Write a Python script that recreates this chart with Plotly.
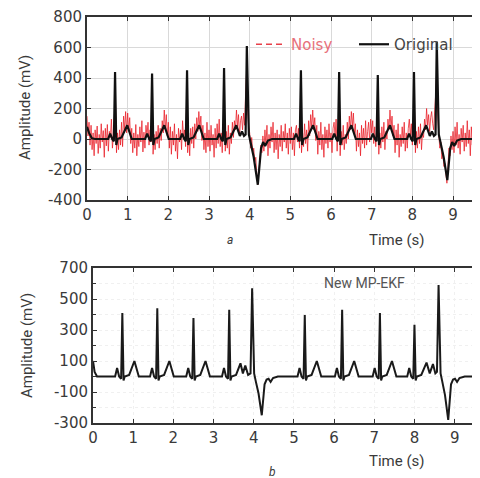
import plotly.graph_objects as go

# ---------------- data ----------------
# noisy signal, sampled every 0.025 s (one row per second)
noisy_dt = 0.025
noisy_rows = [
    [150, 20, 110, -40, 90, -70, 40, -110, 60, -30, 85, -95, 30, -60, 100, -20, 55, -120, 70, -45,
     95, -80, 50, 10, 130, -60, 20, 160, 250, -90, 40, -70, 60, -40, 110, -50, 150, 60, 180, 40],
    [170, 50, 140, -30, 70, -90, 40, -60, 95, -110, 30, -50, 80, -20, 120, -85, 45, -60, 90, 20,
     110, -40, 60, -20, 220, -100, 30, -70, 50, -30, 90, -60, 70, -10, 120, 40, 190, 60, 160, 20],
    [110, -60, 80, -100, 50, -40, 100, -80, 30, -130, 70, -20, 60, -70, 120, 10, 60, -50, 260, -90,
     40, -110, 70, -30, 80, -60, 100, 0, 140, 50, 180, 70, 150, -10, 90, -70, 40, -90, 110, -50],
    [60, -80, 90, -40, 30, -120, 70, -60, 100, -30, 130, -50, 40, -90, 60, 240, -80, 50, -60, 90,
     -100, 40, -30, 110, 10, 120, 60, 190, 80, 160, 20, 120, 150, 60, 170, 90, 300, 450, 200, 80],
    [40, -60, 10, -90, -60, -150, -120, -230, -300, -200, -150, -40, -90, 20, -80, 60, -40, 90, -110, 30,
     -60, 80, -20, 110, -90, 40, -70, 60, -130, 30, -50, 90, -80, 50, -20, 100, -60, 40, -100, 70],
    [-30, 80, -70, 40, -110, 60, 90, -20, 70, -60, 230, -90, 40, -50, 100, -30, 60, -80, 120, 20,
     160, 70, 190, 60, 140, -10, 90, -100, 50, -40, 110, -70, 30, -120, 80, -30, 60, -60, 100, -20],
    [40, -90, 70, 110, 20, 130, -80, 60, 250, -110, 50, -40, 90, -70, 30, -30, 110, 0, 150, 60,
     180, 80, 170, 30, 100, -80, 60, -50, 40, -110, 90, -30, 70, -60, 120, -40, 50, 110, -20, 130],
    [40, 120, -30, 80, -50, 60, 220, -100, 40, -60, 80, -20, 110, -70, 50, 0, 130, 60, 190, 70,
     150, 20, 90, -90, 60, -40, 100, -120, 30, -50, 80, -30, 110, -80, 40, -60, 70, 130, 20, 100],
    [-40, 60, 240, -90, 50, -60, 80, -30, 100, -70, 40, 10, 130, 60, 200, 90, 160, 50, 140, 180,
     100, 60, 190, 300, 450, 150, 30, -60, -20, -130, -90, -180, -160, -230, -290, -180, -60, -110, 20, -70],
    [50, -90, 80, -40, 110, -60, 30, -100, 70, -20, 90, -80, 40, -50, 120, -30, 60, -110, 80, -40,
     100, -70, 50, -20, 90, -60, 40, -80, 60, -30, 100, -50, 70, -90, 40],
]

# original ECG (top panel) key points
orig_t = [0, 0.05, 0.12, 0.2,
          0.52, 0.57, 0.62, 0.66, 0.69, 0.72, 0.75, 0.85, 0.99, 1.1,
          1.43, 1.48, 1.53, 1.57, 1.60, 1.63, 1.66, 1.76, 1.90, 2.01,
          2.29, 2.34, 2.39, 2.43, 2.46, 2.49, 2.52, 2.62, 2.76, 2.87,
          3.20, 3.25, 3.30, 3.34, 3.37, 3.40, 3.43, 3.53, 3.67, 3.76, 3.81, 3.86,
          3.90, 3.93, 3.98, 4.02, 4.10, 4.20, 4.28, 4.33, 4.38, 4.45, 4.55,
          5.09, 5.14, 5.19, 5.23, 5.26, 5.29, 5.32, 5.42, 5.56, 5.67,
          6.03, 6.08, 6.13, 6.17, 6.20, 6.23, 6.26, 6.36, 6.50, 6.61,
          6.98, 7.03, 7.08, 7.12, 7.15, 7.18, 7.21, 7.31, 7.45, 7.56,
          7.87, 7.92, 7.97, 8.01, 8.04, 8.07, 8.10, 8.20, 8.34, 8.43, 8.48, 8.53,
          8.57, 8.60, 8.65, 8.69, 8.77, 8.86, 8.93, 8.98, 9.03, 9.10, 9.2, 9.9]
orig_v = [80, 40, 5, 0,
          0, 35, 0, -15, 440, -40, 0, 10, 90, 0,
          0, 35, 0, -15, 430, -40, 0, 10, 90, 0,
          0, 35, 0, -15, 450, -40, 0, 10, 90, 0,
          0, 35, 0, -15, 465, -40, 0, 10, 90, 20, 50, 20,
          30, 610, 30, -20, -120, -300, -60, -20, -45, -10, 0,
          0, 35, 0, -15, 450, -40, 0, 10, 90, 0,
          0, 35, 0, -15, 440, -40, 0, 10, 90, 0,
          0, 35, 0, -15, 420, -40, 0, 10, 90, 0,
          0, 35, 0, -15, 440, -40, 0, 10, 90, 20, 50, 20,
          30, 640, 30, -20, -120, -270, -60, -20, -45, -10, 0, 0]

# New MP-EKF output (bottom panel) key points
ekf_t = [0, 0.04, 0.1,
         0.55, 0.60, 0.65, 0.70, 0.73, 0.76, 0.79, 0.9, 1.03, 1.14,
         1.42, 1.47, 1.52, 1.57, 1.60, 1.63, 1.66, 1.77, 1.90, 2.01,
         2.32, 2.37, 2.42, 2.47, 2.50, 2.53, 2.56, 2.67, 2.80, 2.91,
         3.21, 3.26, 3.31, 3.36, 3.39, 3.42, 3.45, 3.56, 3.67, 3.73, 3.79, 3.86, 3.92,
         3.96, 4.01, 4.05, 4.12, 4.20, 4.27, 4.32, 4.37, 4.42, 4.48, 4.6,
         5.09, 5.14, 5.19, 5.24, 5.27, 5.30, 5.33, 5.44, 5.57, 5.68,
         6.02, 6.07, 6.12, 6.17, 6.20, 6.23, 6.26, 6.37, 6.50, 6.61,
         6.96, 7.01, 7.06, 7.11, 7.14, 7.17, 7.20, 7.31, 7.44, 7.55,
         7.82, 7.87, 7.92, 7.97, 8.00, 8.03, 8.06, 8.17, 8.30, 8.38, 8.46, 8.52, 8.56,
         8.60, 8.65, 8.69, 8.76, 8.84, 8.91, 8.96, 9.01, 9.06, 9.12, 9.25, 9.9]
ekf_v = [100, 30, 0,
         0, 55, 0, -15, 410, -25, 0, 10, 100, 0,
         0, 55, 0, -15, 440, -25, 0, 10, 100, 0,
         0, 55, 0, -15, 377, -25, 0, 10, 100, 0,
         0, 55, 0, -15, 430, -25, 0, 10, 85, 20, 70, 10, 20,
         570, 20, -30, -110, -250, -50, -20, -15, -35, -10, 0,
         0, 55, 0, -15, 397, -25, 0, 10, 100, 0,
         0, 55, 0, -15, 430, -25, 0, 10, 100, 0,
         0, 55, 0, -15, 410, -25, 0, 10, 100, 0,
         0, 55, 0, -15, 333, -25, 0, 10, 90, 20, 80, 20, 30,
         590, 20, -30, -120, -280, -50, -20, -15, -35, -10, 0, 0]

top_yticks = [-400, -200, 0, 200, 400, 600, 800]
bot_yticks = [-300, -100, 100, 300, 500, 700]
xticks = [0, 1, 2, 3, 4, 5, 6, 7, 8, 9]

# ---------------- figure ----------------
noisy_v = [v for row in noisy_rows for v in row]
noisy_t = [round(i * noisy_dt, 3) for i in range(len(noisy_v))]

W, H = 480, 478
OFF = 8  # page body margin offset
FONT = "Roboto"
TICKFONT = "DejaVu Sans"
TXT = "#3a3a3a"


def px_x(p):
    return (p - OFF) / W


def px_y(p):
    return 1 - (p - OFF) / H


fig = go.Figure()
fig.add_trace(go.Scatter(x=noisy_t, y=noisy_v, mode="lines", xaxis="x", yaxis="y",
                         showlegend=False,
                         line=dict(color="rgba(232,25,35,0.75)", width=1.0, simplify=False)))
fig.add_trace(go.Scatter(x=[None], y=[None], mode="lines", xaxis="x", yaxis="y",
                         name="<span style='color:#e8707a'>Noisy</span>",
                         line=dict(color="#e8404a", width=1.5, dash="6px,4px")))
fig.add_trace(go.Scatter(x=orig_t, y=orig_v, mode="lines", xaxis="x", yaxis="y",
                         name="<span style='color:#444'>Original</span>",
                         line=dict(color="#111111", width=2.2, simplify=False)))
fig.add_trace(go.Scatter(x=ekf_t, y=ekf_v, mode="lines", xaxis="x2", yaxis="y2",
                         showlegend=False, line=dict(color="#1a1a1a", width=2.0, simplify=False)))

axis_common = dict(showline=True, linecolor="#333", linewidth=2, ticks="inside",
                   tickcolor="#333", ticklen=4, tickfont=dict(family=TICKFONT, size=15, color=TXT),
                   automargin=False, zeroline=False)

fig.update_layout(
    width=W, height=H, margin=dict(l=0, r=0, t=0, b=0),
    paper_bgcolor="white", plot_bgcolor="white",
    font=dict(family=FONT, color=TXT),
    xaxis=dict(domain=[px_x(87), 1], range=[0, 9.86], tickvals=xticks, mirror="allticks",
               showgrid=True, gridcolor="#d9d9d9", gridwidth=1, anchor="y", **axis_common),
    yaxis=dict(domain=[px_y(200), px_y(17)], range=[-400, 800], tickvals=top_yticks,
               ticktext=[str(v) for v in top_yticks],
               showgrid=True, gridcolor="#d9d9d9", gridwidth=1, anchor="x", **axis_common),
    xaxis2=dict(domain=[px_x(93), 1], range=[0, 9.83], tickvals=xticks, mirror="allticks",
                showgrid=True, gridcolor="#f0f0f0", griddash="dot", anchor="y2", **axis_common),
    yaxis2=dict(domain=[px_y(423), px_y(268)], range=[-300, 700], tickvals=bot_yticks,
                ticktext=[str(v) for v in bot_yticks],
                minor=dict(dtick=100, tick0=-300, ticks="inside", ticklen=3, tickcolor="#333",
                           showgrid=True, gridcolor="#f0f0f0", griddash="dot"),
                showgrid=True, gridcolor="#f0f0f0", griddash="dot", anchor="x2", **axis_common),
    legend=dict(orientation="h", x=px_x(251), y=px_y(28), xanchor="left", yanchor="top",
                bgcolor="rgba(255,255,255,0)", font=dict(family=TICKFONT, size=15),
                itemwidth=30, tracegroupgap=0, borderwidth=0,
                entrywidth=58, entrywidthmode="pixels"),
    showlegend=True,
)

ann = [
    dict(text="Amplitude (mV)", x=25, y=108, textangle=-90, size=15),
    dict(text="Amplitude (mV)", x=27, y=346, textangle=-90, size=15),
    dict(text="Time (s)", x=397, y=240, textangle=0, size=15),
    dict(text="Time (s)", x=397, y=461, textangle=0, size=15),
    dict(text="<i>a</i>", x=230, y=240, textangle=0, size=12),
    dict(text="<i>b</i>", x=272, y=472, textangle=0, size=12),
    dict(text="New MP-EKF", x=364, y=283, textangle=0, size=14),
]
for a in ann:
    fig.add_annotation(text=a["text"], x=px_x(a["x"]), y=px_y(a["y"]), xref="paper", yref="paper",
                       xanchor="center", yanchor="middle", showarrow=False,
                       textangle=a["textangle"],
                       font=dict(family=FONT, size=a["size"], color="#555" if "MP" in a["text"] else TXT))

fig.write_html("out.html")
